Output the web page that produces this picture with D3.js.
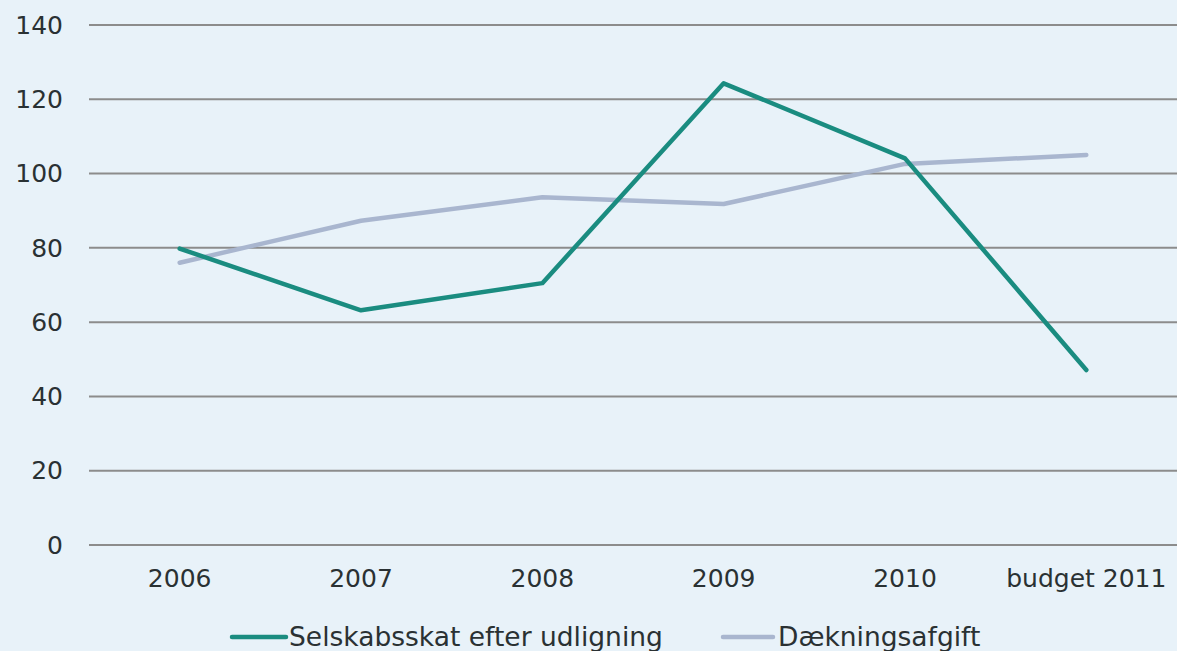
<!DOCTYPE html>
<html>
<head>
<meta charset="utf-8">
<script src="https://cdn.jsdelivr.net/npm/d3@7"></script>
<style>
  body { margin: 0; background: #e8f2f9; }
  .chart text { font-family: "DejaVu Sans", Verdana, sans-serif; fill: #2a3133; }
</style>
</head>
<body>
<div class="chart"></div>
<script>
//Chart data.
var categories = ["2006", "2007", "2008", "2009", "2010", "budget 2011"];
var selskabsskat = [79.8, 63.2, 70.5, 124.3, 104.1, 47.1];
var daekningsafgift = [76.0, 87.3, 93.6, 91.8, 102.6, 105.0];
var seriesNames = ["Selskabsskat efter udligning", "Dækningsafgift"];
var yTicks = [0, 20, 40, 60, 80, 100, 120, 140];

var svgWidth = 1177;
var svgHeight = 651;

//Plot area.
var margin = { top: 25, right: 0, bottom: 106, left: 89 };
var chartWidth = svgWidth - margin.left - margin.right;
var chartHeight = svgHeight - margin.top - margin.bottom;

var svg = d3.select(".chart")
  .append("svg")
  .attr("width", svgWidth)
  .attr("height", svgHeight)
  .style("background", "#e8f2f9");

var chart = svg.append("g")
  .attr("transform", "translate(" + margin.left + "," + margin.top + ")");

var xScale = d3.scalePoint().domain(categories).range([0, chartWidth]).padding(0.5);
var yScale = d3.scaleLinear().domain([0, 140]).range([chartHeight, 0]);

//Gridlines.
chart.selectAll(".grid")
  .data(yTicks)
  .enter().append("line")
  .attr("x1", 0)
  .attr("x2", chartWidth)
  .attr("y1", function(d) { return yScale(d); })
  .attr("y2", function(d) { return yScale(d); })
  .attr("stroke", "#8c8c8c")
  .attr("stroke-width", 2);

//Y tick labels.
chart.selectAll(".ylab")
  .data(yTicks)
  .enter().append("text")
  .attr("x", -26)
  .attr("y", function(d) { return yScale(d); })
  .attr("dy", "0.35em")
  .attr("text-anchor", "end")
  .style("font-size", "25px")
  .text(function(d) { return d; });

//X tick labels.
chart.selectAll(".xlab")
  .data(categories)
  .enter().append("text")
  .attr("x", function(d) { return xScale(d); })
  .attr("y", chartHeight + 33)
  .attr("dy", "0.35em")
  .attr("text-anchor", "middle")
  .style("font-size", "25px")
  .text(function(d) { return d; });

var line = d3.line()
  .x(function(d, i) { return xScale(categories[i]); })
  .y(function(d) { return yScale(d); });

var colors = ["#1a8c80", "#a9b6cf"];

//Draw grey series first so green sits on top.
chart.append("path")
  .datum(daekningsafgift)
  .attr("d", line)
  .attr("fill", "none")
  .attr("stroke", colors[1])
  .attr("stroke-width", 4.5)
  .attr("stroke-linejoin", "round")
  .attr("stroke-linecap", "round");

chart.append("path")
  .datum(selskabsskat)
  .attr("d", line)
  .attr("fill", "none")
  .attr("stroke", colors[0])
  .attr("stroke-width", 4.5)
  .attr("stroke-linejoin", "round")
  .attr("stroke-linecap", "round");

//Legend.
var legendX = [230, 721];
var legend = svg.selectAll(".legend")
  .data(seriesNames)
  .enter().append("g")
  .attr("transform", function(d, i) { return "translate(" + legendX[i] + ",637)"; });

legend.append("line")
  .attr("x1", 2)
  .attr("x2", function(d, i) { return i === 0 ? 56 : 52; })
  .attr("stroke", function(d, i) { return colors[i]; })
  .attr("stroke-width", 4.5)
  .attr("stroke-linecap", "round");

legend.append("text")
  .attr("x", function(d, i) { return i === 0 ? 59 : 57; })
  .attr("dy", "0.35em")
  .style("font-size", "26.5px")
  .text(function(d) { return d; });
</script>
</body>
</html>
